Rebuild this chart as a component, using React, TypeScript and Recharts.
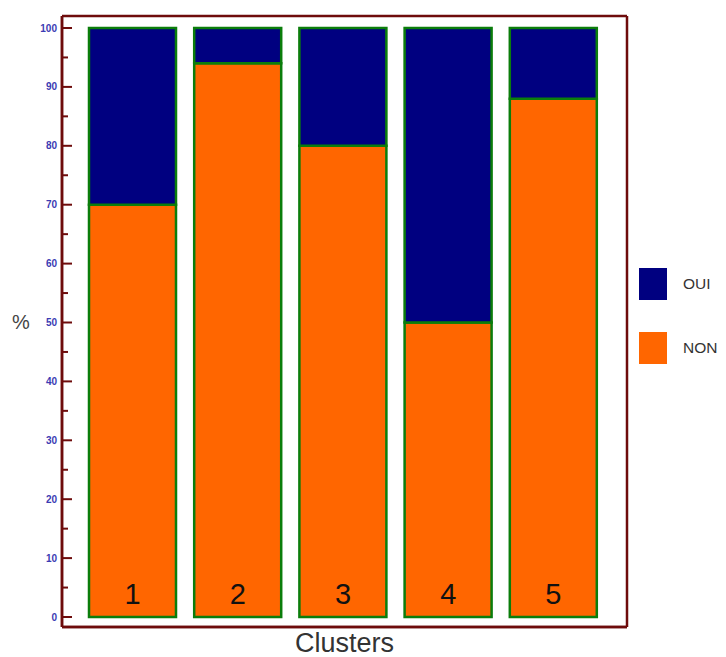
import React from "react";
import { BarChart, Bar, XAxis, YAxis, Legend, CartesianGrid } from "recharts";

const clusters = ["1", "2", "3", "4", "5"];
const nonValues = [70, 94, 80, 50, 88];
const ouiValues = [30, 6, 20, 50, 12];
const yTicks = [0, 5, 10, 15, 20, 25, 30, 35, 40, 45, 50, 55, 60, 65, 70, 75, 80, 85, 90, 95, 100];

const data = clusters.map((c, i) => ({ cluster: c, NON: nonValues[i], OUI: ouiValues[i] }));

const FRAME = "#6e0c0c";
const BAR_EDGE = "#0b7d0b";
const NAVY = "#000080";
const ORANGE = "#ff6600";
const FONT = "'Liberation Sans', Arial, sans-serif";

const YTick = (props: any) => {
  const { x, y, payload } = props;
  const major = payload.value % 10 === 0;
  return (
    <g>
      <line x1={x} y1={y} x2={x + (major ? 10 : 6)} y2={y} stroke={FRAME} strokeWidth={2} />
      {major && (
        <text x={x - 5} y={y + 3.5} textAnchor="end" fontSize={10} fontWeight="bold" fill="#3b3bb3" fontFamily={FONT}>
          {payload.value}
        </text>
      )}
    </g>
  );
};

const XTick = (props: any) => {
  const { x, y, payload } = props;
  return (
    <text x={x} y={y - 23} textAnchor="middle" fontSize={29} fill="#111" fontFamily={FONT}>
      {payload.value}
    </text>
  );
};

const LegendBox = (props: any) => {
  const items = [...(props.payload || [])].reverse();
  return (
    <div style={{ width: 85, fontFamily: FONT }}>
      {items.map((it: any, i: number) => (
        <div key={it.value} style={{ display: "flex", alignItems: "center", height: 33, marginTop: i === 0 ? 10 : 31 }}>
          <div style={{ width: 28, height: 32, background: it.color, marginLeft: 12, flexShrink: 0 }} />
          <span style={{ marginLeft: 16, fontSize: 15.5, color: "#333", flexShrink: 0, whiteSpace: "nowrap" }}>{it.value}</span>
        </div>
      ))}
    </div>
  );
};

// frame lines taken from the plot area edges
const frameH = ({ offset }: any) => [offset.top, offset.top + offset.height];
const frameV = ({ offset }: any) => [offset.left, offset.left + offset.width];

export default function App() {
  return (
    <BarChart width={710} height={649} data={data} margin={{ top: 8, right: 6, bottom: 0, left: 0 }}>
      <CartesianGrid
        stroke={FRAME}
        strokeWidth={2.5}
        horizontalCoordinatesGenerator={frameH}
        verticalCoordinatesGenerator={frameV}
      />
      <XAxis
        dataKey="cluster"
        height={30}
        padding={{ left: 18, right: 21 }}
        axisLine={{ stroke: FRAME, strokeWidth: 2.5 }}
        tickLine={false}
        tickSize={0}
        tickMargin={0}
        tick={<XTick />}
        label={{ value: "Clusters", position: "insideBottom", offset: 5, fontSize: 27, fill: "#333", fontFamily: FONT }}
      />
      <YAxis
        width={54}
        domain={[0, 100]}
        ticks={yTicks}
        interval={0}
        padding={{ top: 12, bottom: 10 }}
        axisLine={{ stroke: FRAME, strokeWidth: 2.5 }}
        tickLine={false}
        tickSize={0}
        tickMargin={0}
        tick={<YTick />}
        label={{ value: "%", position: "insideLeft", offset: 4, fontSize: 20, fill: "#444", fontFamily: FONT }}
      />
      <Legend layout="vertical" align="right" verticalAlign="top" wrapperStyle={{ top: 249 }} content={<LegendBox />} />
      <Bar dataKey="NON" stackId="a" fill={ORANGE} stroke={BAR_EDGE} strokeWidth={2.5} barSize={87} isAnimationActive={false} />
      <Bar dataKey="OUI" stackId="a" fill={NAVY} stroke={BAR_EDGE} strokeWidth={2.5} barSize={87} isAnimationActive={false} />
    </BarChart>
  );
}
